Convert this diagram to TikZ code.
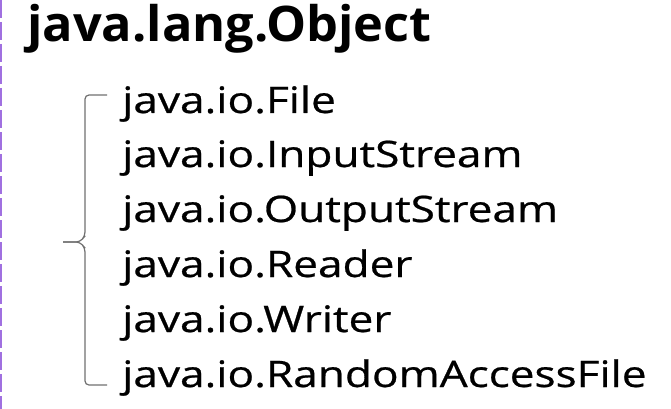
\documentclass[tikz,border=0pt]{standalone}
\usepackage{fontspec}
\setmainfont{Open Sans}
\newfontfamily\itemfont{Open Sans}[FakeBold=0.6]
\definecolor{bracegray}{HTML}{707070}
\definecolor{edgepurple}{HTML}{A070E0}
\newcommand{\wideitem}[1]{\scalebox{1.21}[1]{#1}}
\newcommand{\widetitle}[1]{\scalebox{1.03}[1]{#1}}
\begin{document}
\begin{tikzpicture}[x=1pt,y=-1pt,
  titletext/.style={anchor=base west,inner sep=0pt,font=\fontsize{49}{49}\selectfont\bfseries},
  itemtext/.style={anchor=base west,inner sep=0pt,font=\fontsize{36.5}{36.5}\selectfont\itemfont},
  bracestyle/.style={draw=bracegray,line width=1.2pt,rounded corners=4pt}]
\useasboundingbox (0,0) rectangle (671,409);
\draw[edgepurple,line width=1.5pt,dash pattern=on 18pt off 4pt] (0.8,0) -- (0.8,409);
\node[titletext] (title) at (27,42) {\widetitle{java.lang.Object}};
\node[itemtext] (i1) at (122,113) {\wideitem{java.io.File}};
\node[itemtext] (i2) at (122,167) {\wideitem{java.io.InputStream}};
\node[itemtext] (i3) at (122,222) {\wideitem{java.io.OutputStream}};
\node[itemtext] (i4) at (122,277) {\wideitem{java.io.Reader}};
\node[itemtext] (i5) at (122,332) {\wideitem{java.io.Writer}};
\node[itemtext] (i6) at (122,387) {\wideitem{java.io.RandomAccessFile}};
\coordinate (btop) at (107,95);
\coordinate (bbot) at (107,385);
\coordinate (btip) at (63,242);
\draw[bracestyle] (btop) -- (85,95) -- (85,236) -- (80,242) -- (btip);
\draw[bracestyle] (btip) -- (80,242) -- (85,248) -- (85,385) -- (bbot);
\end{tikzpicture}
\end{document}
